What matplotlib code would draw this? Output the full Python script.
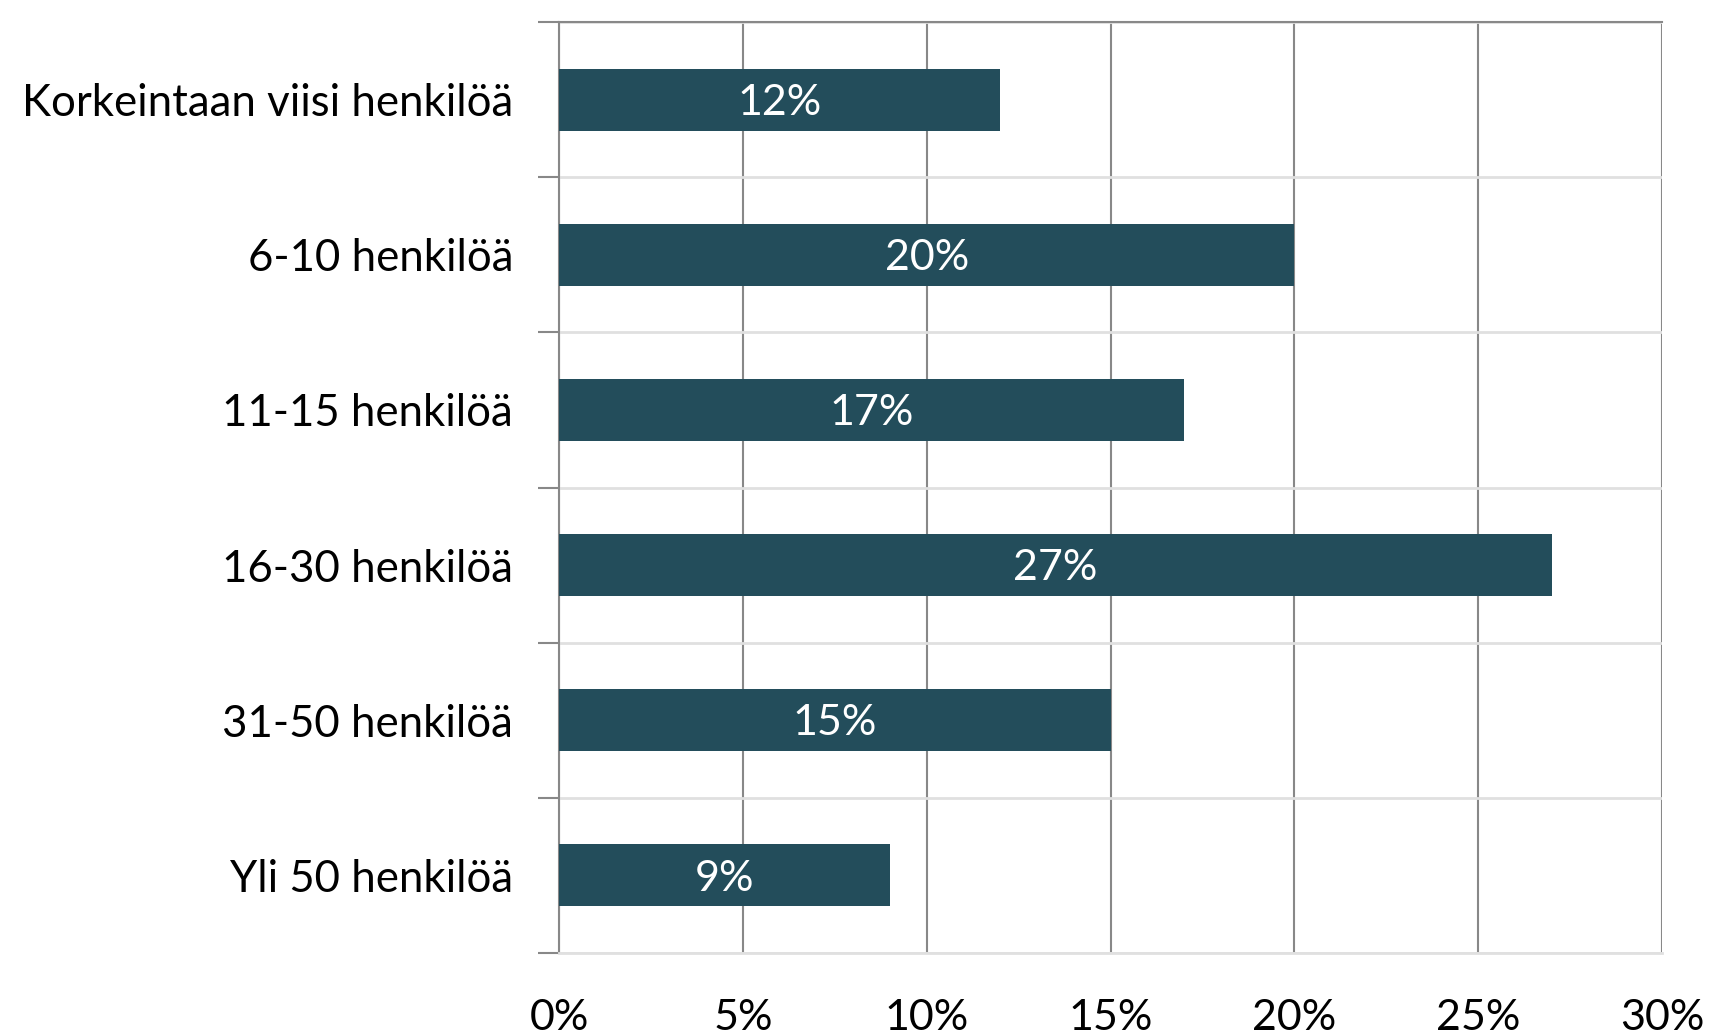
import matplotlib
matplotlib.use("Agg")
import matplotlib.pyplot as plt
import numpy as np

categories = ["Korkeintaan viisi henkilöä", "6-10 henkilöä", "11-15 henkilöä",
              "16-30 henkilöä", "31-50 henkilöä", "Yli 50 henkilöä"]
values = [12, 20, 17, 27, 15, 9]
xticks = [0, 5, 10, 15, 20, 25, 30]
xtick_labels = ["0%", "5%", "10%", "15%", "20%", "25%", "30%"]

plt.rcParams['font.family'] = ['Lato', 'DejaVu Sans']

fig = plt.figure(figsize=(17.17, 10.34), dpi=100)
ax = fig.add_axes([559/1717, 1-953/1034, (1662-559)/1717, (953-22)/1034])

n = len(categories)
y = np.arange(n)
bar_color = "#234d5b"
ax.barh(y, values, height=0.4, color=bar_color, zorder=3)
for yi, v in zip(y, values):
    ax.text(v/2, yi + 0.02, f"{v}%", ha="center", va="center", color="white",
            fontsize=31, zorder=4)

ax.set_xlim(0, 30)
ax.set_ylim(n-0.5, -0.5)
ax.set_xticks(xticks)
ax.set_xticklabels(xtick_labels, fontsize=31)
ax.tick_params(axis="x", length=0, pad=33)
ax.set_yticks(y)
ax.set_yticklabels(categories, fontsize=31.5)
ax.tick_params(axis="y", which="major", length=0, pad=33)
ax.set_yticks(np.arange(n+1)-0.5, minor=True)
ax.tick_params(axis="y", which="minor", length=15, width=1.5, color="#888888", direction="out")

ax.grid(axis="x", color="#888888", linewidth=1.5, zorder=1)
ax.grid(axis="y", which="minor", color="#e0e0e0", linewidth=2, zorder=1)
ax.grid(axis="y", which="major", visible=False)

for s in ["left", "top"]:
    ax.spines[s].set_color("#888888")
    ax.spines[s].set_linewidth(1.5)
ax.spines["right"].set_visible(False)
ax.spines["bottom"].set_color("#e0e0e0")
ax.spines["bottom"].set_linewidth(2)
ax.set_axisbelow(True)

fig.savefig("out.png", dpi=100, facecolor="white")
